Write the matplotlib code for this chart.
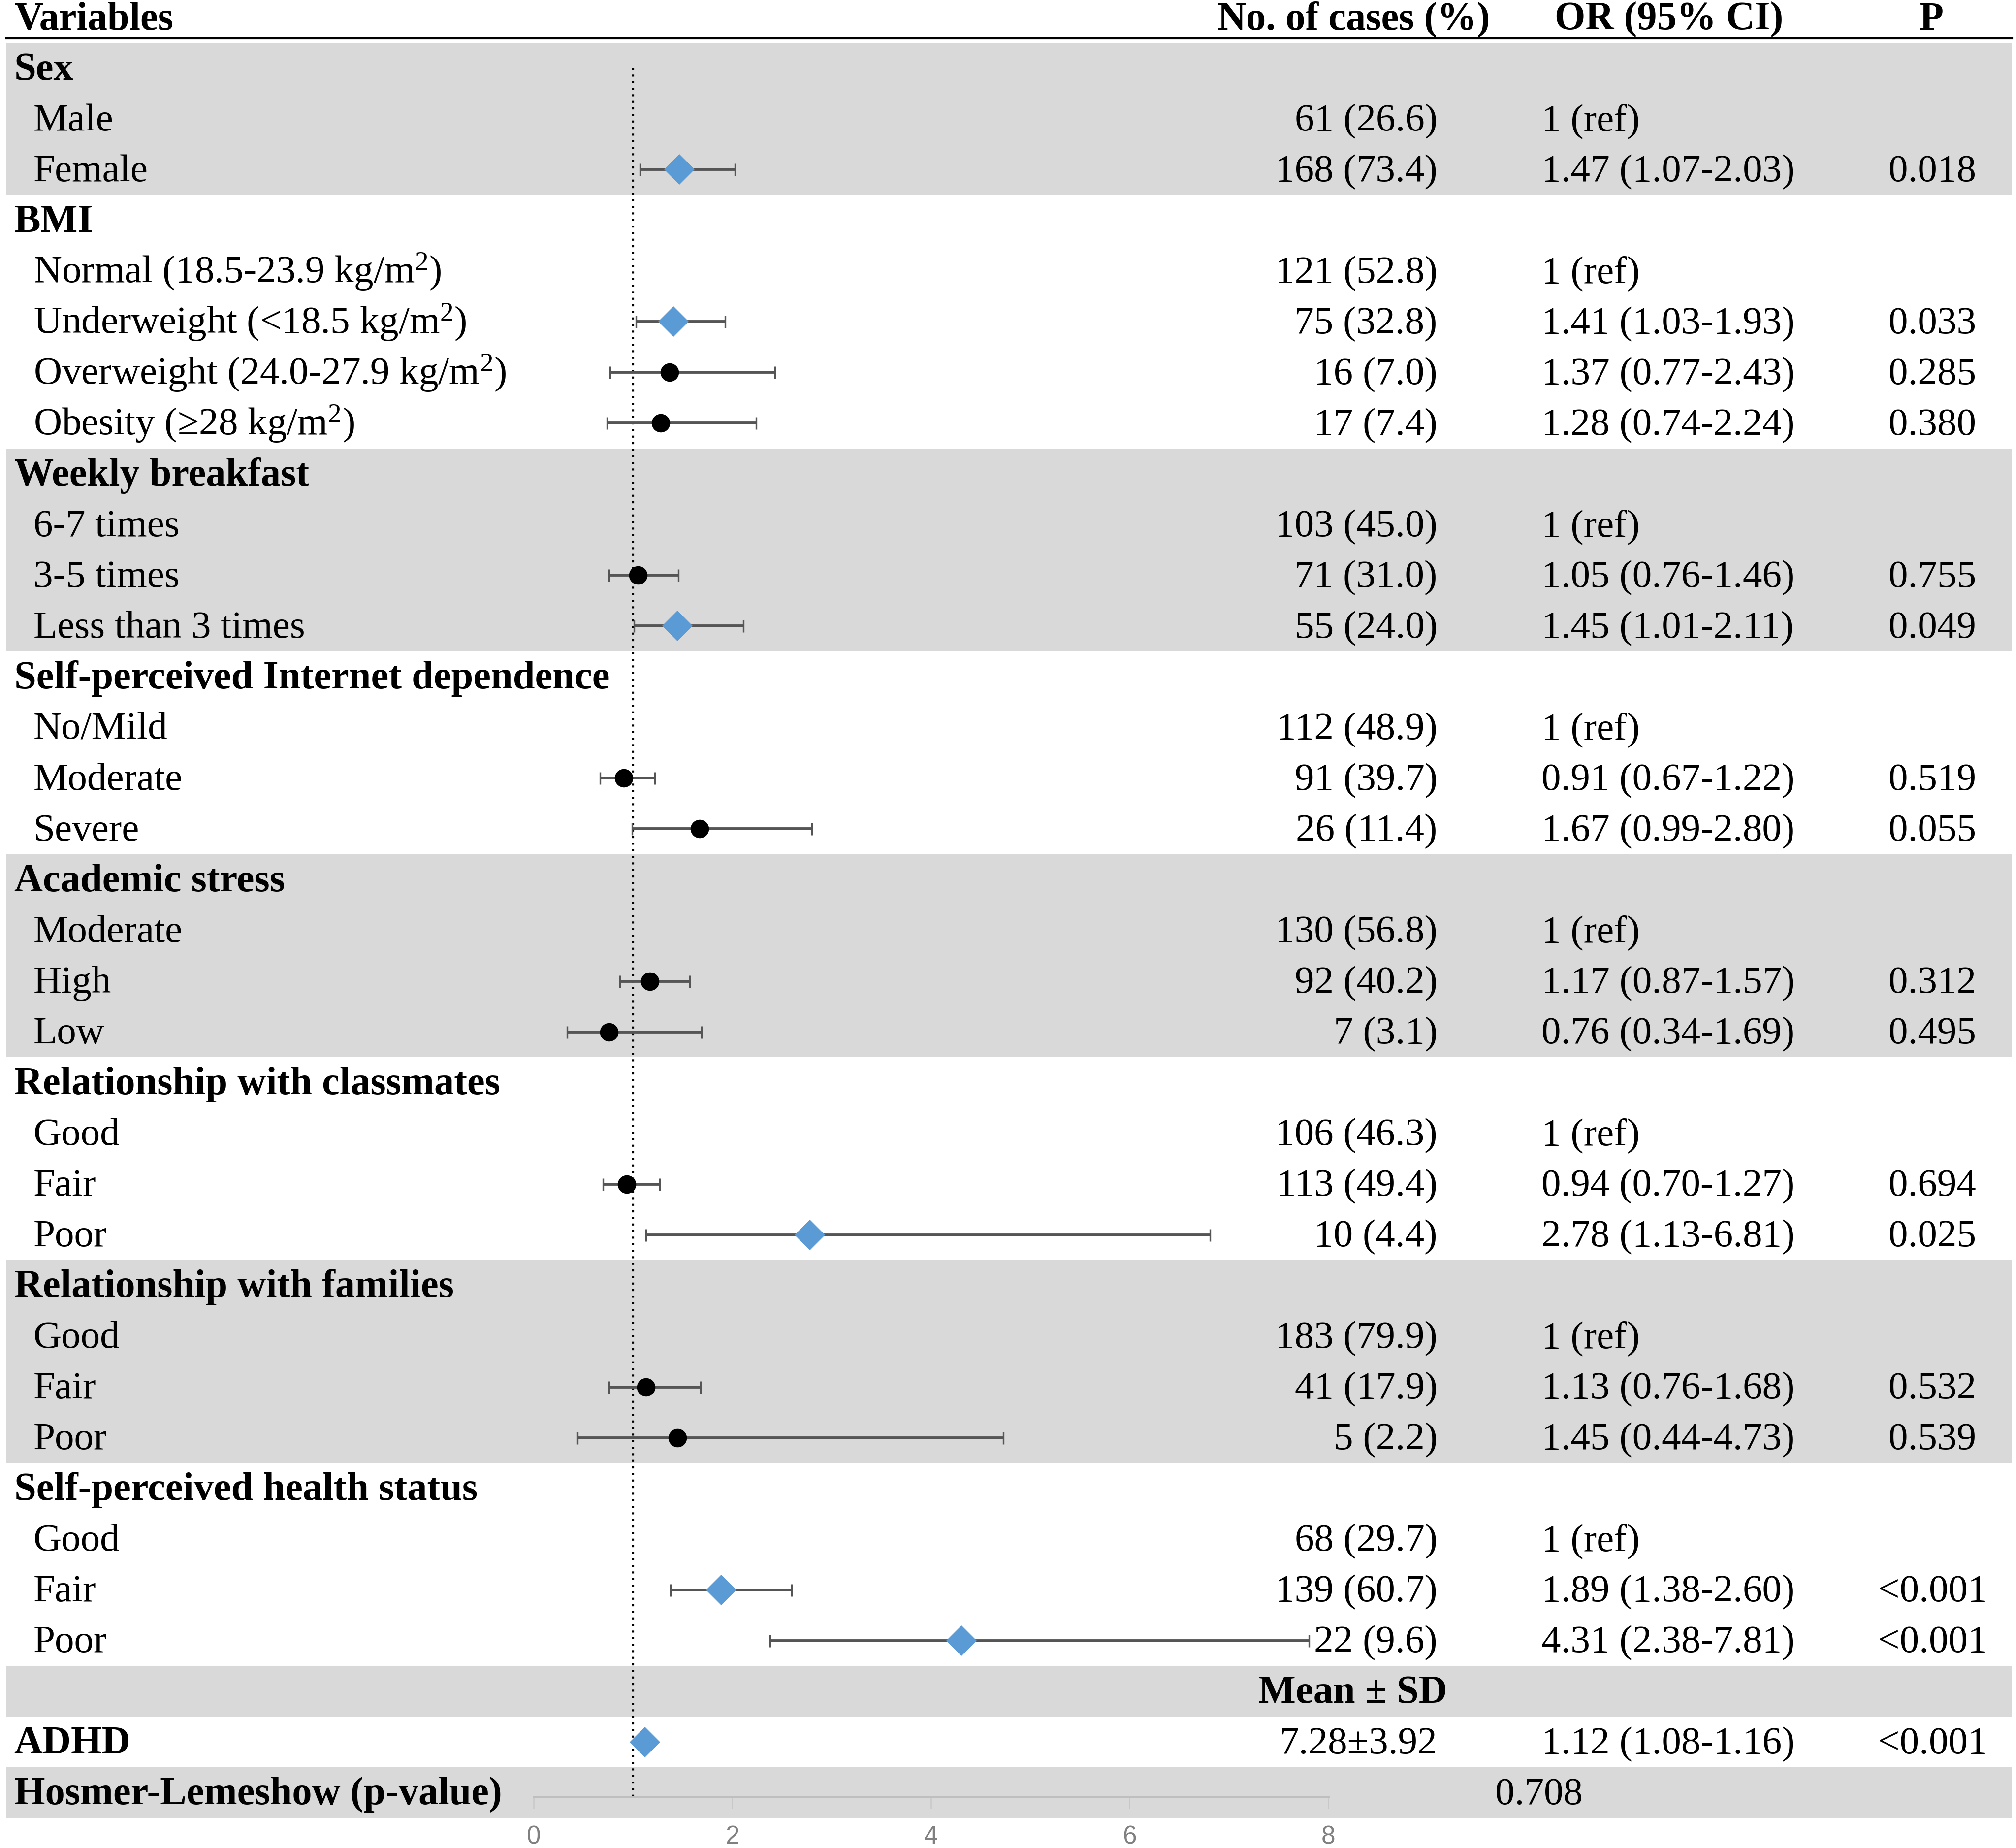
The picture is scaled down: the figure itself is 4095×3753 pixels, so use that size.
import numpy as np
import matplotlib
matplotlib.use('Agg')
import matplotlib.pyplot as plt

plt.rcParams['font.family'] = ['Liberation Serif', 'DejaVu Serif']
plt.rcParams['mathtext.fontset'] = 'custom'
plt.rcParams['mathtext.rm'] = 'Liberation Serif'
plt.rcParams['mathtext.it'] = 'Liberation Serif:italic'
plt.rcParams['mathtext.bf'] = 'Liberation Serif:bold'

# table rows, top to bottom
labels = ['Sex', 'Male', 'Female',
          'BMI', 'Normal (18.5-23.9 kg/m$^{2}$)', 'Underweight (<18.5 kg/m$^{2}$)',
          'Overweight (24.0-27.9 kg/m$^{2}$)', 'Obesity (≥28 kg/m$^{2}$)',
          'Weekly breakfast', '6-7 times', '3-5 times', 'Less than 3 times',
          'Self-perceived Internet dependence', 'No/Mild', 'Moderate', 'Severe',
          'Academic stress', 'Moderate', 'High', 'Low',
          'Relationship with classmates', 'Good', 'Fair', 'Poor',
          'Relationship with families', 'Good', 'Fair', 'Poor',
          'Self-perceived health status', 'Good', 'Fair', 'Poor',
          '', 'ADHD', 'Hosmer-Lemeshow (p-value)']
is_header = [1, 0, 0, 1, 0, 0, 0, 0, 1, 0, 0, 0, 1, 0, 0, 0, 1, 0, 0, 0,
             1, 0, 0, 0, 1, 0, 0, 0, 1, 0, 0, 0, 1, 1, 1]
group_id = [0, 0, 0, 1, 1, 1, 1, 1, 2, 2, 2, 2, 3, 3, 3, 3, 4, 4, 4, 4,
            5, 5, 5, 5, 6, 6, 6, 6, 7, 7, 7, 7, 8, 9, 10]
cases = ['', '61 (26.6)', '168 (73.4)',
         '', '121 (52.8)', '75 (32.8)', '16 (7.0)', '17 (7.4)',
         '', '103 (45.0)', '71 (31.0)', '55 (24.0)',
         '', '112 (48.9)', '91 (39.7)', '26 (11.4)',
         '', '130 (56.8)', '92 (40.2)', '7 (3.1)',
         '', '106 (46.3)', '113 (49.4)', '10 (4.4)',
         '', '183 (79.9)', '41 (17.9)', '5 (2.2)',
         '', '68 (29.7)', '139 (60.7)', '22 (9.6)',
         '', '7.28±3.92', '']
or_text = ['', '1 (ref)', '1.47 (1.07-2.03)',
           '', '1 (ref)', '1.41 (1.03-1.93)', '1.37 (0.77-2.43)', '1.28 (0.74-2.24)',
           '', '1 (ref)', '1.05 (0.76-1.46)', '1.45 (1.01-2.11)',
           '', '1 (ref)', '0.91 (0.67-1.22)', '1.67 (0.99-2.80)',
           '', '1 (ref)', '1.17 (0.87-1.57)', '0.76 (0.34-1.69)',
           '', '1 (ref)', '0.94 (0.70-1.27)', '2.78 (1.13-6.81)',
           '', '1 (ref)', '1.13 (0.76-1.68)', '1.45 (0.44-4.73)',
           '', '1 (ref)', '1.89 (1.38-2.60)', '4.31 (2.38-7.81)',
           '', '1.12 (1.08-1.16)', '']
p_text = ['', '', '0.018',
          '', '', '0.033', '0.285', '0.380',
          '', '', '0.755', '0.049',
          '', '', '0.519', '0.055',
          '', '', '0.312', '0.495',
          '', '', '0.694', '0.025',
          '', '', '0.532', '0.539',
          '', '', '<0.001', '<0.001',
          '', '<0.001', '']
nan = np.nan
odds = [nan, nan, 1.47, nan, nan, 1.41, 1.37, 1.28, nan, nan, 1.05, 1.45,
        nan, nan, 0.91, 1.67, nan, nan, 1.17, 0.76, nan, nan, 0.94, 2.78,
        nan, nan, 1.13, 1.45, nan, nan, 1.89, 4.31, nan, 1.12, nan]
ci_low = [nan, nan, 1.07, nan, nan, 1.03, 0.77, 0.74, nan, nan, 0.76, 1.01,
          nan, nan, 0.67, 0.99, nan, nan, 0.87, 0.34, nan, nan, 0.70, 1.13,
          nan, nan, 0.76, 0.44, nan, nan, 1.38, 2.38, nan, 1.08, nan]
ci_high = [nan, nan, 2.03, nan, nan, 1.93, 2.43, 2.24, nan, nan, 1.46, 2.11,
           nan, nan, 1.22, 2.80, nan, nan, 1.57, 1.69, nan, nan, 1.27, 6.81,
           nan, nan, 1.68, 4.73, nan, nan, 2.60, 7.81, nan, 1.16, nan]
mean_sd_title = 'Mean ± SD'
hosmer_value = '0.708'
columns = ['Variables', 'No. of cases (%)', 'OR (95% CI)', 'P']
x_ticks = [0, 2, 4, 6, 8]

W, H = 1568, 1437          # layout units (reference px, downscaled)
ROW0, ROWH = 53, 39.44     # first row centre, row height
BASE = 9                   # baseline offset below the row centre
FS = 19.0
FS_BOLD = 19.3
GREY_BAND = '#d9d9d9'
BLUE = '#5b9bd5'


def row_y(i):
    return ROW0 + ROWH * i


def main():
    fig = plt.figure(figsize=(4095 / 300, 3753 / 300), dpi=300)
    bg = fig.add_axes([0, 0, 1, 1])
    bg.set_xlim(0, W)
    bg.set_ylim(H, 0)
    bg.axis('off')

    n = len(labels)
    # shaded bands, alternating by group
    for i in range(n):
        if group_id[i] % 2 == 0:
            bg.fill_between([5, 1565], row_y(i) - ROWH / 2, row_y(i) + ROWH / 2,
                            color=GREY_BAND, lw=0, zorder=0)

    # header
    bg.plot([5, 1565], [30, 30], color='black', lw=1.0)
    hy = 14 + BASE
    bold = dict(fontsize=FS_BOLD, fontweight='bold', va='baseline')
    plain = dict(fontsize=FS, va='baseline')
    bg.text(11, hy, columns[0], **bold)
    bg.text(1053, hy, columns[1], ha='center', **bold)
    bg.text(1298, hy, columns[2], ha='center', **bold)
    bg.text(1502, hy, columns[3], ha='center', **bold)

    for i in range(n):
        y = row_y(i) + BASE
        if is_header[i]:
            bg.text(11, y, labels[i], **bold)
        else:
            bg.text(26, y, labels[i], **plain)
        if cases[i]:
            bg.text(1118, y, cases[i], ha='right', zorder=5, **plain)
        if or_text[i]:
            bg.text(1199, y, or_text[i], ha='left', **plain)
        if p_text[i]:
            bg.text(1503, y, p_text[i], ha='center', **plain)

    bg.text(1052, row_y(32) + BASE, mean_sd_title, ha='center', **bold)
    bg.text(1197, row_y(34) + BASE, hosmer_value, ha='center', **plain)

    # forest plot axes, bottom spine at y=1397
    x0, x1 = 415, 1033
    yb = 1397
    ax = fig.add_axes([x0 / W, (H - yb) / H, (x1 - x0) / W, yb / H])
    ax.patch.set_alpha(0)
    ax.set_xlim(0, 8)
    ax.set_ylim((yb - ROW0) / ROWH, (0 - ROW0) / ROWH)
    for s in ['top', 'left', 'right']:
        ax.spines[s].set_visible(False)
    ax.spines['bottom'].set_color('#bfbfbf')
    ax.spines['bottom'].set_linewidth(1.2)
    ax.set_yticks([])
    ax.set_xticks(x_ticks)
    ax.tick_params(axis='x', direction='out', length=5.8, width=0.6, color='#c8c8c8',
                   labelcolor='#808080', labelsize=12.3, pad=8)
    for lab in ax.get_xticklabels():
        lab.set_fontfamily('Liberation Sans')

    ax.vlines(1, 0, (yb - ROW0) / ROWH, colors='black', linestyles=(0, (1, 2.2)),
              lw=1.0, zorder=2)

    rows = np.arange(n)
    odds_a = np.array(odds)
    lo_a = np.array(ci_low)
    hi_a = np.array(ci_high)
    has = ~np.isnan(odds_a)
    sig = has & (lo_a > 1)
    ns = has & ~(lo_a > 1)

    ax.errorbar(odds_a[has], rows[has],
                xerr=[odds_a[has] - lo_a[has], hi_a[has] - odds_a[has]],
                fmt='none', ecolor='#555555', elinewidth=1.4, capsize=3, capthick=0.8,
                zorder=3, clip_on=False)
    ax.plot(odds_a[sig], rows[sig], 'D', color=BLUE, markersize=10.5, mew=0,
            zorder=4, clip_on=False)
    ax.plot(odds_a[ns], rows[ns], 'o', color='black', markersize=9, mew=0,
            zorder=4, clip_on=False)

    fig.savefig('out.png', dpi=300)


if __name__ == '__main__':
    main()
